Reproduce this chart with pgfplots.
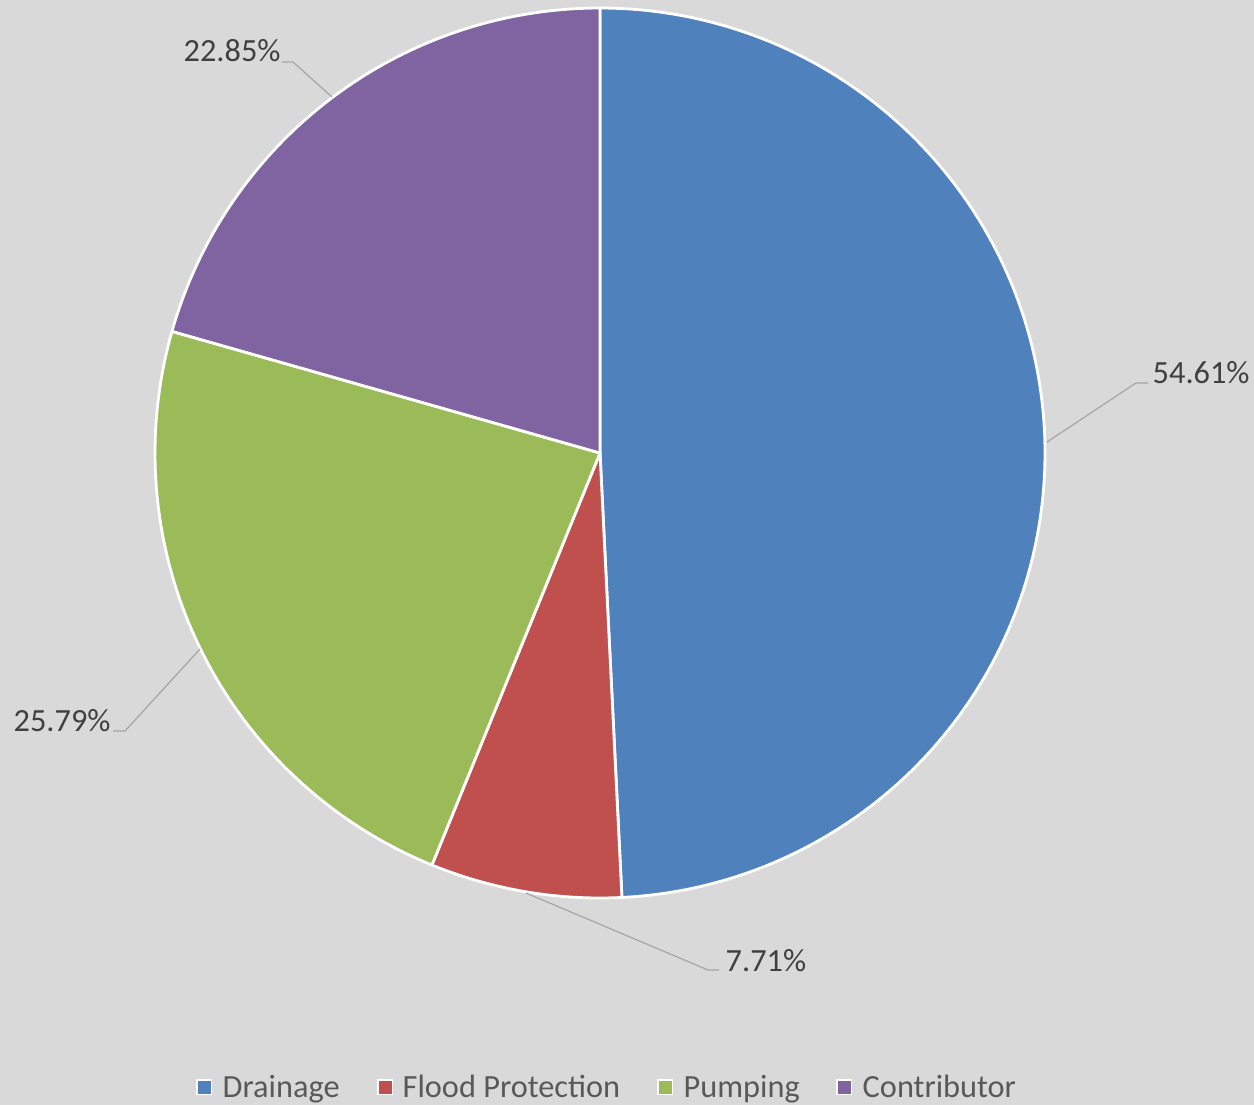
\documentclass[border=0pt]{standalone}
\usepackage{pgfplots}
\pgfplotsset{compat=1.18}
\usepackage{fontspec}
\setmainfont{Carlito}
\definecolor{bg}{HTML}{D9D9D9}
\definecolor{cA}{HTML}{4F81BD}
\definecolor{cB}{HTML}{C0504D}
\definecolor{cC}{HTML}{9BBB59}
\definecolor{cD}{HTML}{8064A2}
\definecolor{lbl}{HTML}{404040}
\definecolor{leg}{HTML}{595959}
\definecolor{lead}{HTML}{A6A6A6}
% values (percent shares as labelled)
\def\vA{54.61}\def\vB{7.71}\def\vC{25.79}\def\vD{22.85}
\pgfmathsetmacro\tot{\vA+\vB+\vC+\vD}
\pgfmathsetmacro\aA{90}
\pgfmathsetmacro\aB{\aA-360*(\vA/\tot)}
\pgfmathsetmacro\aC{\aB-360*(\vB/\tot)}
\pgfmathsetmacro\aD{\aC-360*(\vC/\tot)}
\pgfmathsetmacro\aE{\aD-360*(\vD/\tot)}
\begin{document}
\begin{tikzpicture}
\begin{axis}[
  scale only axis, width=12.54cm, height=11.05cm,
  xmin=0, xmax=1254, ymin=0, ymax=1105,
  hide axis, clip=false,
  every axis plot/.append style={draw=white, line width=0.8pt, line join=round},
]
\fill[bg] (axis cs:0,0) rectangle (axis cs:1254,1105);
\addplot[fill=cA, domain=\aA:\aB, samples=150] ({600+445*cos(x)},{652+445*sin(x)}) -- (axis cs:600,652) -- cycle;
\addplot[fill=cB, domain=\aB:\aC, samples=40] ({600+445*cos(x)},{652+445*sin(x)}) -- (axis cs:600,652) -- cycle;
\addplot[fill=cC, domain=\aC:\aD, samples=80] ({600+445*cos(x)},{652+445*sin(x)}) -- (axis cs:600,652) -- cycle;
\addplot[fill=cD, domain=\aD:\aE, samples=80] ({600+445*cos(x)},{652+445*sin(x)}) -- (axis cs:600,652) -- cycle;
% leader lines
\draw[lead, line width=0.35pt] (axis cs:1047,663) -- (axis cs:1136,722) -- (axis cs:1148,722);
\draw[lead, line width=0.35pt] (axis cs:526,212) -- (axis cs:708,135) -- (axis cs:719,135);
\draw[lead, line width=0.35pt] (axis cs:200,456) -- (axis cs:125,374) -- (axis cs:113,374);
\draw[lead, line width=0.35pt] (axis cs:332,1008) -- (axis cs:293,1043) -- (axis cs:282,1043);
% labels
\tikzset{lab/.style={anchor=base west, inner sep=0pt, text=lbl, font=\fontsize{9.2pt}{11pt}\selectfont}}
\node[lab] at (axis cs:1152,722) {54.61\%};
\node[lab] at (axis cs:725,134) {7.71\%};
\node[lab] at (axis cs:13,374) {25.79\%};
\node[lab] at (axis cs:183,1043) {22.85\%};
% legend
\tikzset{lt/.style={anchor=base west, inner sep=0pt, text=leg, font=\fontsize{9.2pt}{11pt}\selectfont},
         sq/.style={draw=white, line width=0.3pt, minimum size=4pt, inner sep=0pt}}
\node[sq, fill=cA] at (axis cs:204,18) {};
\node[lt] at (axis cs:222,8) {Drainage};
\node[sq, fill=cB] at (axis cs:385,18) {};
\node[lt] at (axis cs:402,8) {Flood Protection};
\node[sq, fill=cC] at (axis cs:665,18) {};
\node[lt] at (axis cs:683,8) {Pumping};
\node[sq, fill=cD] at (axis cs:844,18) {};
\node[lt] at (axis cs:862,8) {Contributor};
\end{axis}
\end{tikzpicture}
\end{document}
